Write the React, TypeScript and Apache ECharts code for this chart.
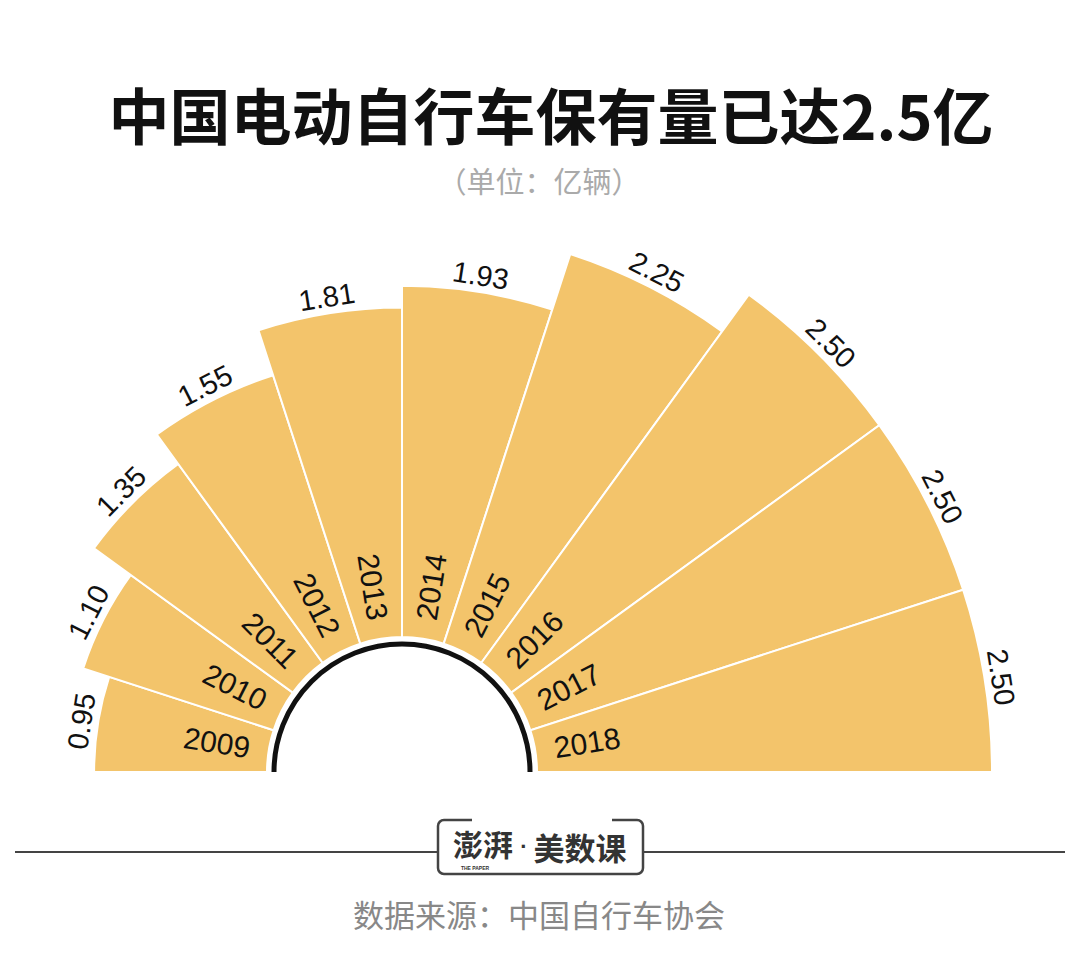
import React, { useEffect, useRef } from 'react';
import * as echarts from 'echarts';

const years = ['2009', '2010', '2011', '2012', '2013', '2014', '2015', '2016', '2017', '2018'];
const values = [0.95, 1.1, 1.35, 1.55, 1.81, 1.93, 2.25, 2.5, 2.5, 2.5];
const titleText = '中国电动自行车保有量已达2.5亿';
const subtitleText = '（单位：亿辆）';
const sourceText = '数据来源：中国自行车协会';
const logoMain = '澎湃';
const logoDot = '·';
const logoSub = '美数课';
const logoTiny = 'THE PAPER';

const BAR_COLOR = '#F3C46B';
const CJK = '"Noto Sans CJK SC", "Noto Sans", sans-serif';
const NUM = '"Liberation Sans", Arial, sans-serif';

export default function App() {
  const ref = useRef<HTMLDivElement>(null);
  useEffect(() => {
    document.body.style.margin = '0';
    const chart = echarts.init(ref.current!, null, { renderer: 'svg' });
    const option: any = {
      animation: false,
      backgroundColor: '#ffffff',
      polar: { center: [402, 772], radius: [135, 590] },
      angleAxis: {
        type: 'category',
        data: years,
        startAngle: 180,
        endAngle: 0,
        clockwise: true,
        show: false,
        boundaryGap: true,
      },
      radiusAxis: { type: 'value', min: 0, max: 2.5, show: false },
      series: [
        {
          type: 'bar',
          coordinateSystem: 'polar',
          data: values,
          barCategoryGap: '0%',
          itemStyle: { color: BAR_COLOR, borderColor: '#ffffff', borderWidth: 2 },
          silent: true,
        },
        {
          type: 'custom',
          coordinateSystem: 'polar',
          silent: true,
          z: 5,
          data: values.map((v, i) => [v, i]),
          renderItem: (params: any, api: any) => {
            const cs = params.coordSys;
            const v = api.value(0) as number;
            const i = api.value(1) as number;
            const p = api.coord([v, i]);
            const a = Math.atan2(cs.cy - p[1], p[0] - cs.cx);
            const rOut = Math.hypot(p[0] - cs.cx, p[1] - cs.cy);
            const rv = rOut + 2;
            const ry = cs.r0 + 19;
            const left = a > Math.PI / 2;
            const children: any[] = [
              {
                type: 'text',
                x: cs.cx + rv * Math.cos(a),
                y: cs.cy - rv * Math.sin(a),
                rotation: a - Math.PI / 2,
                style: {
                  text: v.toFixed(2),
                  align: 'center',
                  verticalAlign: 'bottom',
                  font: `29px ${NUM}`,
                  fill: '#111',
                },
              },
              {
                type: 'text',
                x: cs.cx + ry * Math.cos(a),
                y: cs.cy - ry * Math.sin(a),
                rotation: left ? a - Math.PI : a,
                style: {
                  text: years[i],
                  align: left ? 'right' : 'left',
                  verticalAlign: 'middle',
                  font: `30px ${NUM}`,
                  fill: '#111',
                },
              },
            ];
            if (params.dataIndex === 0) {
              children.push({
                type: 'arc',
                shape: { cx: cs.cx, cy: cs.cy, r: cs.r0 - 7, startAngle: Math.PI, endAngle: Math.PI * 2, clockwise: true },
                style: { stroke: '#111', lineWidth: 5, fill: 'none' },
              });
            }
            return { type: 'group', children };
          },
        },
      ],
      graphic: [
        {
          type: 'text',
          x: 551,
          y: 113,
          style: {
            text: titleText,
            font: `bold 61px ${CJK}`,
            fill: '#111',
            align: 'center',
            verticalAlign: 'middle',
          },
        },
        {
          type: 'text',
          x: 539,
          y: 180,
          style: {
            text: subtitleText,
            font: `29px ${CJK}`,
            fill: '#aaaaaa',
            align: 'center',
            verticalAlign: 'middle',
          },
        },
        { type: 'line', shape: { x1: 15, y1: 852, x2: 438, y2: 852 }, style: { stroke: '#444', lineWidth: 2 } },
        { type: 'line', shape: { x1: 643, y1: 852, x2: 1065, y2: 852 }, style: { stroke: '#444', lineWidth: 2 } },
        {
          type: 'rect',
          shape: { x: 438, y: 820, width: 205, height: 54, r: 6 },
          style: { stroke: '#444', lineWidth: 2.5, fill: '#fff' },
        },
        { type: 'rect', shape: { x: 472, y: 815, width: 140, height: 9 }, style: { fill: '#fff' } },
        {
          type: 'text',
          x: 483,
          y: 843,
          style: { text: logoMain, font: `bold 30px ${CJK}`, fill: '#333', align: 'center', verticalAlign: 'middle' },
        },
        {
          type: 'text',
          x: 475,
          y: 868,
          style: { text: logoTiny, font: `bold 5px ${NUM}`, fill: '#333', align: 'center', verticalAlign: 'middle' },
        },
        {
          type: 'text',
          x: 524,
          y: 846,
          style: { text: logoDot, font: `bold 22px ${NUM}`, fill: '#333', align: 'center', verticalAlign: 'middle' },
        },
        {
          type: 'text',
          x: 580,
          y: 846,
          style: { text: logoSub, font: `bold 31px ${CJK}`, fill: '#333', align: 'center', verticalAlign: 'middle' },
        },
        {
          type: 'text',
          x: 539,
          y: 913,
          style: { text: sourceText, font: `31px ${CJK}`, fill: '#888', align: 'center', verticalAlign: 'middle' },
        },
      ],
    };
    chart.setOption(option);
    return () => chart.dispose();
  }, []);
  return <div ref={ref} style={{ width: 1080, height: 979 }} />;
}
